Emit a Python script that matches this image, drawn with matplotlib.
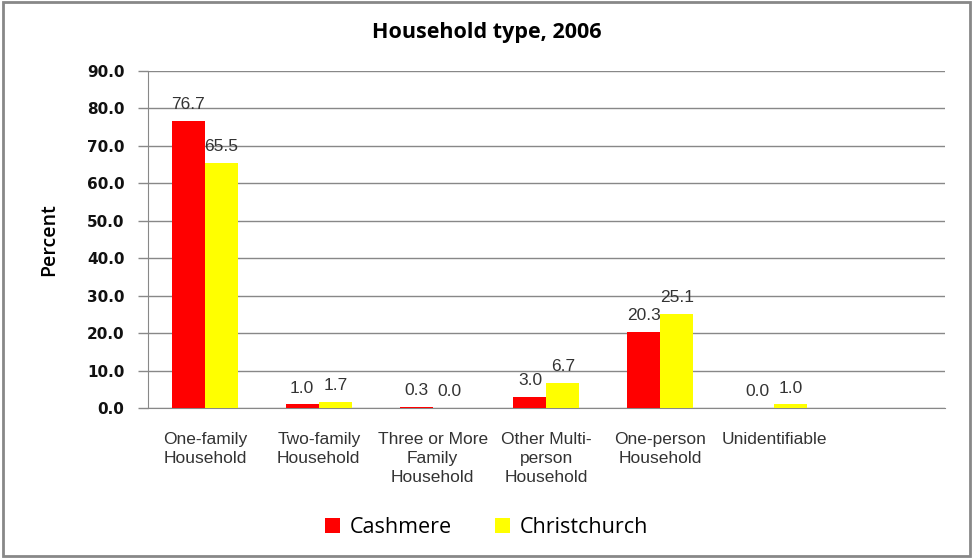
import matplotlib.pyplot as plt
import numpy as np
from matplotlib.patches import Rectangle

# data
categories = ["One-family\nHousehold", "Two-family\nHousehold", "Three or More\nFamily\nHousehold",
              "Other Multi-\nperson\nHousehold", "One-person\nHousehold", "Unidentifiable", ""]
cashmere = [76.7, 1.0, 0.3, 3.0, 20.3, 0.0, np.nan]
christchurch = [65.5, 1.7, 0.0, 6.7, 25.1, 1.0, np.nan]
yticks = np.arange(0, 91, 10)

fig = plt.figure(figsize=(9.73, 5.58), dpi=100)
ax = fig.add_axes([0.1521, 0.2688, 0.819, 0.604])

x = np.arange(len(categories))
w = 0.29
b1 = ax.bar(x - w / 2, cashmere, w, color="#ff0000", label="Cashmere", zorder=3)
b2 = ax.bar(x + w / 2, christchurch, w, color="#ffff00", label="Christchurch", zorder=3)

for bars, vals in ((b1, cashmere), (b2, christchurch)):
    for r, v in zip(bars, vals):
        if np.isnan(v):
            continue
        ax.text(r.get_x() + r.get_width() / 2, v + 2.3, f"{v:.1f}", ha="center", va="bottom",
                fontsize=12.5, color="#333333", family="Liberation Sans")

ax.set_xlim(-0.5, len(categories) - 0.5)
ax.set_ylim(0, 90)
ax.set_yticks(yticks)
ax.set_yticklabels([f"{t:.1f}" for t in yticks], fontsize=11, fontweight="bold",
                   family="DejaVu Sans", color="#111111")
ax.set_xticks(x)
ax.set_xticklabels(categories, fontsize=12.5, family="Liberation Sans", color="#333333",
                   va="top", linespacing=1.35)
ax.tick_params(axis="x", length=0, pad=17)
ax.tick_params(axis="y", length=7, color="#888888", width=1, pad=10)

ax.grid(axis="y", color="#888888", linewidth=1, zorder=0)
for s in ("top", "right"):
    ax.spines[s].set_visible(False)
ax.spines["left"].set_color("#888888")
ax.spines["bottom"].set_color("#888888")

ax.set_ylabel("Percent", fontsize=14, family="Open Sans", fontweight="semibold", labelpad=20)
fig.text(0.5, 0.942, "Household type, 2006", ha="center", va="center",
         fontsize=15.5, fontweight="bold", family="Open Sans")

fig.legend(loc="center", bbox_to_anchor=(0.5, 0.055), ncol=2, frameon=False,
           prop={"family": "Open Sans", "size": 15.5}, handlelength=0.7, handleheight=0.7,
           columnspacing=2.0, handletextpad=0.45)

fig.patches.append(Rectangle((0.003, 0.004), 0.994, 0.992, transform=fig.transFigure,
                             fill=False, edgecolor="#888888", linewidth=2))

fig.savefig("out.png", dpi=100)
